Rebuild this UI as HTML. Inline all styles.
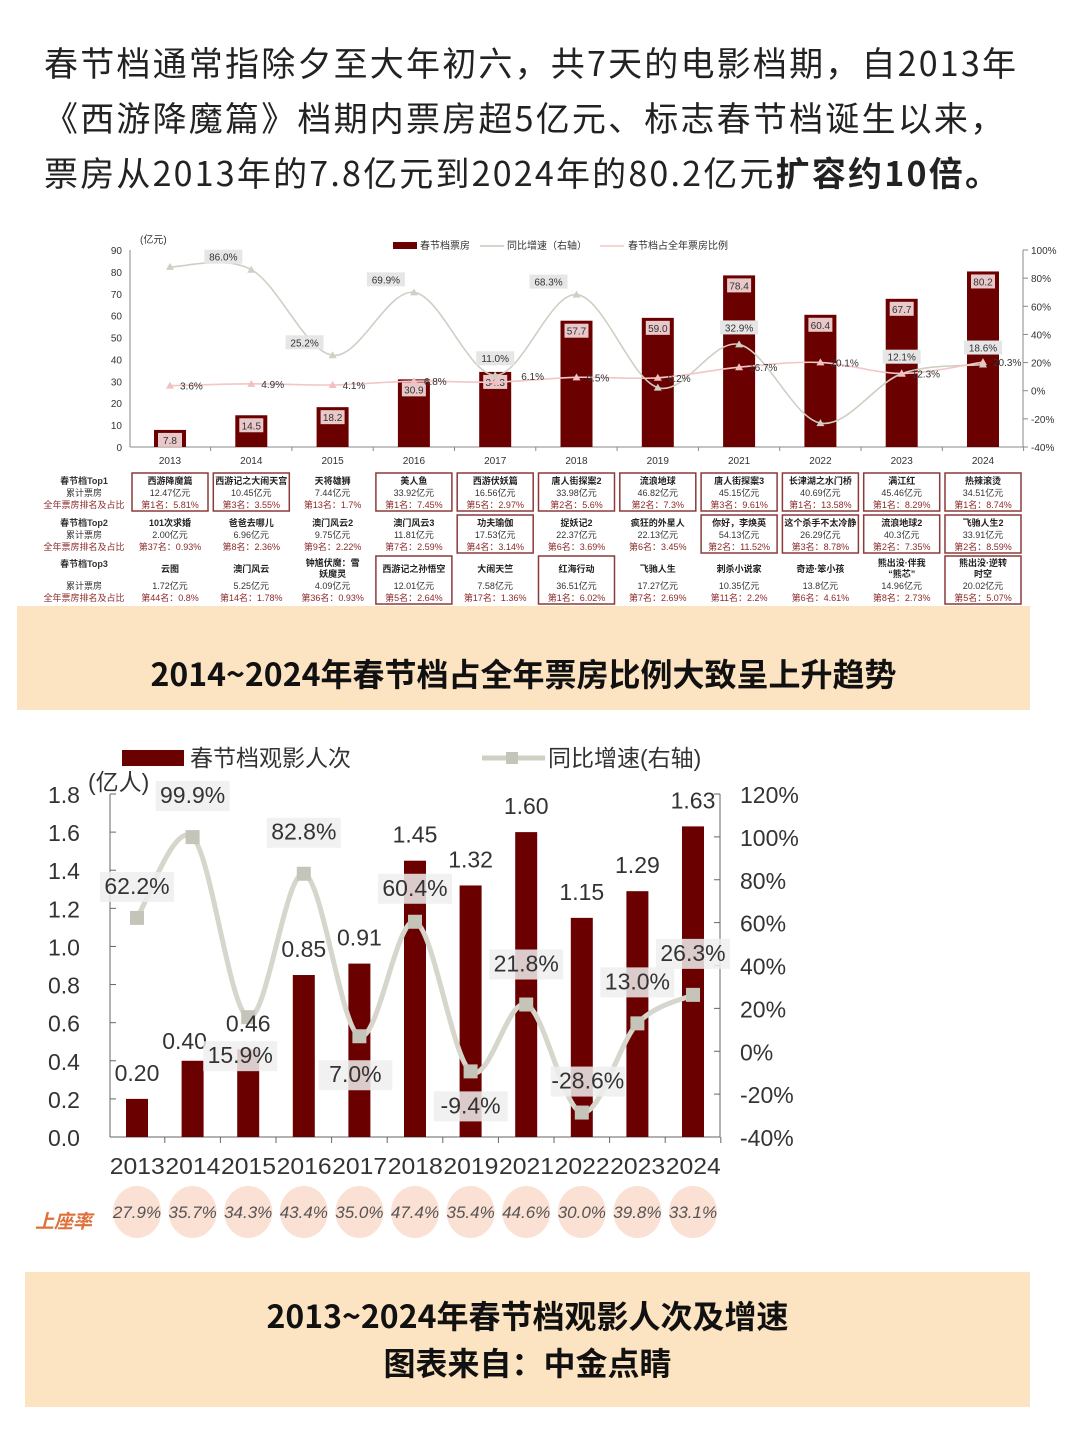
<!DOCTYPE html>
<html><head><meta charset="utf-8">
<style>
body{margin:0;width:1080px;height:1440px;background:#fff;font-family:"Liberation Sans","Noto Sans CJK SC",sans-serif;position:relative;overflow:hidden}
.intro{position:absolute;left:44px;top:34px;width:1030px;font-size:34px;line-height:55px;color:#222;font-family:"Noto Sans CJK SC",sans-serif;white-space:nowrap;letter-spacing:2.2px}
.banner{position:absolute;background:#fce3c1;text-align:center;font-weight:bold;color:#111;font-family:"Noto Sans CJK SC",sans-serif}
svg text{font-family:"Liberation Sans","Noto Sans CJK SC",sans-serif}
</style></head><body>
<div class="intro">春节档通常指除夕至大年初六，共7天的电影档期，自2013年<br>《西游降魔篇》档期内票房超5亿元、标志春节档诞生以来，<br>票房从2013年的7.8亿元到2024年的80.2亿元<b>扩容约10倍。</b></div>
<svg id="top" style="position:absolute;left:0;top:225px" width="1080" height="390"></svg>
<div class="banner" style="left:17px;top:606px;width:1013px;height:104px;line-height:134px;font-size:32px">2014~2024年春节档占全年票房比例大致呈上升趋势</div>
<svg id="bot" style="position:absolute;left:0;top:730px" width="1080" height="520"></svg>
<div class="banner" style="left:25px;top:1272px;width:1005px;height:135px;font-size:32px;line-height:47px;padding-top:20px;box-sizing:border-box">2013~2024年春节档观影人次及增速<br>图表来自：中金点睛</div>
<script>
const years=["2013","2014","2015","2016","2017","2018","2019","2021","2022","2023","2024"];
const boxOffice=[7.8,14.5,18.2,30.9,34.3,57.7,59.0,78.4,60.4,67.7,80.2];
const boGrowth=[88,86.0,25.2,69.9,11.0,68.3,2.2,32.9,-23,12.1,18.6];
const boGrowthLabels=["","86.0%","25.2%","69.9%","11.0%","68.3%","","32.9%","","12.1%","18.6%"];
const share=[3.6,4.9,4.1,6.8,6.1,9.5,9.2,16.7,20.1,12.3,20.3];
const shareLabels=["3.6%","4.9%","4.1%","6.8%","6.1%","9.5%","9.2%","16.7%","20.1%","12.3%","20.3%"];
const leftTicks=[0,10,20,30,40,50,60,70,80,90];
const rightTicks=[-40,-20,0,20,40,60,80,100];
const films1=[["西游降魔篇","12.47亿元","第1名：5.81%"],["西游记之大闹天宫","10.45亿元","第3名：3.55%"],["天将雄狮","7.44亿元","第13名：1.7%"],["美人鱼","33.92亿元","第1名：7.45%"],["西游伏妖篇","16.56亿元","第5名：2.97%"],["唐人街探案2","33.98亿元","第2名：5.6%"],["流浪地球","46.82亿元","第2名：7.3%"],["唐人街探案3","45.15亿元","第3名：9.61%"],["长津湖之水门桥","40.69亿元","第1名：13.58%"],["满江红","45.46亿元","第1名：8.29%"],["热辣滚烫","34.51亿元","第1名：8.74%"]];
const films2=[["101次求婚","2.00亿元","第37名：0.93%"],["爸爸去哪儿","6.96亿元","第8名：2.36%"],["澳门风云2","9.75亿元","第9名：2.22%"],["澳门风云3","11.81亿元","第7名：2.59%"],["功夫瑜伽","17.53亿元","第4名：3.14%"],["捉妖记2","22.37亿元","第6名：3.69%"],["疯狂的外星人","22.13亿元","第6名：3.45%"],["你好，李焕英","54.13亿元","第2名：11.52%"],["这个杀手不太冷静","26.29亿元","第3名：8.78%"],["流浪地球2","40.3亿元","第2名：7.35%"],["飞驰人生2","33.91亿元","第2名：8.59%"]];
const films3=[["云图","1.72亿元","第44名：0.8%"],["澳门风云","5.25亿元","第14名：1.78%"],["钟馗伏魔：雪妖魔灵","4.09亿元","第36名：0.93%"],["西游记之孙悟空","12.01亿元","第5名：2.64%"],["大闹天竺","7.58亿元","第17名：1.36%"],["红海行动","36.51亿元","第1名：6.02%"],["飞驰人生","17.27亿元","第7名：2.69%"],["刺杀小说家","10.35亿元","第11名：2.2%"],["奇迹·笨小孩","13.8亿元","第6名：4.61%"],["熊出没·伴我“熊芯”","14.96亿元","第8名：2.73%"],["熊出没·逆转时空","20.02亿元","第5名：5.07%"]];
const boxed1=[1,1,0,1,1,1,1,1,1,1,1],boxed2=[0,0,0,0,1,0,0,1,1,1,1],boxed3=[0,0,0,1,0,1,0,0,0,0,1];

const people=[0.20,0.40,0.46,0.85,0.91,1.45,1.32,1.60,1.15,1.29,1.63];
const pGrowth=[62.2,99.9,15.9,82.8,7.0,60.4,-9.4,21.8,-28.6,13.0,26.3];
const occupancy=["27.9%","35.7%","34.3%","43.4%","35.0%","47.4%","35.4%","44.6%","30.0%","39.8%","33.1%"];
const pLeftTicks=[0,0.2,0.4,0.6,0.8,1.0,1.2,1.4,1.6,1.8];
const pRightTicks=[-40,-20,0,20,40,60,80,100,120];

const NS="http://www.w3.org/2000/svg";
function mk(p,t,a,txt){const e=document.createElementNS(NS,t);for(const k in a)e.setAttribute(k,a[k]);if(txt!==undefined)e.textContent=txt;p.appendChild(e);return e;}
function smooth(pts){let d="M"+pts[0][0]+","+pts[0][1];for(let i=0;i<pts.length-1;i++){const p0=pts[i-1]||pts[i],p1=pts[i],p2=pts[i+1],p3=pts[i+2]||p2;const c1=[p1[0]+(p2[0]-p0[0])/6,p1[1]+(p2[1]-p0[1])/6],c2=[p2[0]-(p3[0]-p1[0])/6,p2[1]-(p3[1]-p1[1])/6];d+=" C"+c1+" "+c2+" "+p2;}return d;}

// ---- top chart
(function(){
const s=document.getElementById('top');const O=225;
const x=i=>170+i*81.3;
const yL=v=>447-O-v*(197/90);
const yR=v=>447-O-(v+40)*(197/140);
mk(s,'line',{x1:130,y1:yL(0),x2:1023,y2:yL(0),stroke:'#888'});
mk(s,'line',{x1:130,y1:yL(0),x2:130,y2:yL(90),stroke:'#888'});
mk(s,'line',{x1:1023,y1:yL(0),x2:1023,y2:yR(100),stroke:'#888'});
leftTicks.forEach(v=>{const t=mk(s,'text',{x:122,y:yL(v)+4,'font-size':10,'text-anchor':'end',fill:'#333'},v);});
rightTicks.forEach(v=>{const t=mk(s,'text',{x:1031,y:yR(v)+4,'font-size':10,fill:'#333'},v+'%');mk(s,'line',{x1:1023,x2:1028,y1:yR(v),y2:yR(v),stroke:'#888'});});
mk(s,'text',{x:140,y:18,'font-size':10,fill:'#333'},'(亿元)');
mk(s,'rect',{x:393,y:17,width:24,height:7,fill:'#6b0000'});mk(s,'text',{x:420,y:24,'font-size':10,fill:'#333'},'春节档票房');
mk(s,'line',{x1:480,x2:504,y1:21,y2:21,stroke:'#c8c8bc',"stroke-width":1.5});mk(s,'text',{x:507,y:24,'font-size':10,fill:'#333'},'同比增速（右轴）');
mk(s,'line',{x1:600,x2:624,y1:21,y2:21,stroke:'#f2c6c6',"stroke-width":1.5});mk(s,'text',{x:628,y:24,'font-size':10,fill:'#333'},'春节档占全年票房比例');
years.forEach((yr,i)=>{
 const b=mk(s,'rect',{x:x(i)-16,y:yL(boxOffice[i]),width:32,height:yL(0)-yL(boxOffice[i]),fill:'#6b0000'});
 
 mk(s,'rect',{x:x(i)-12,y:yL(boxOffice[i])+3,width:24,height:14,fill:'#e8c8c8'});
 mk(s,'text',{x:x(i),y:yL(boxOffice[i])+14,'font-size':10,'text-anchor':'middle',fill:'#333'},boxOffice[i].toFixed(1));
 const t=mk(s,'text',{x:x(i),y:yL(0)+17,'font-size':10,'text-anchor':'middle',fill:'#333'},yr);
 mk(s,'line',{x1:x(i)+40.6,x2:x(i)+40.6,y1:yL(0),y2:yL(0)+4,stroke:'#888'});
});
const gp=years.map((_,i)=>[x(i),yR(boGrowth[i])]);
const gl=mk(s,'path',{d:smooth(gp),fill:'none',stroke:'#cfcfc4','stroke-width':1.6});
const sp=years.map((_,i)=>[x(i),yR(share[i])]);
const sl=mk(s,'path',{d:smooth(sp),fill:'none',stroke:'#f2c6c6','stroke-width':1.6});
const tri=(p,c)=>mk(s,'path',{d:`M${p[0]},${p[1]-4}L${p[0]+4},${p[1]+3}L${p[0]-4},${p[1]+3}Z`,fill:c});
gp.forEach(p=>tri(p,'#cfcfc4'));sp.forEach(p=>tri(p,'#f2c0c0'));
years.forEach((yr,i)=>{
 if(boGrowthLabels[i]){const c=(i==4||i==7||i>=9);const lx=x(i)-(c?0:28),ly=gp[i][1]-(c?14:10);
 mk(s,'rect',{x:lx-19,y:ly-10,width:38,height:14,fill:'#e6e6e6'});
 mk(s,'text',{x:lx,y:ly+1,'font-size':10,'text-anchor':'middle',fill:'#333'},boGrowthLabels[i]);}
 const dx=i==4?26:10;
 mk(s,'text',{x:sp[i][0]+dx,y:sp[i][1]+4-(i==4?6:0),'font-size':10,fill:'#333'},shareLabels[i]);
});
const rows=[films1,films2,films3],boxes=[boxed1,boxed2,boxed3],rowY=[250,292,333],rowH=[38,38,48];
const heads=["春节档Top1","春节档Top2","春节档Top3"];
rows.forEach((r,ri)=>{
 const y0=rowY[ri];
 mk(s,'text',{x:84,y:y0+9,'font-size':9,'font-weight':'bold','text-anchor':'middle',fill:'#333'},heads[ri]);
 mk(s,'text',{x:84,y:y0+ (ri==2?rowH[ri]-17:21),'font-size':9,'text-anchor':'middle',fill:'#333'},'累计票房');
 mk(s,'text',{x:84,y:y0+rowH[ri]-5,'font-size':9,'text-anchor':'middle',fill:'#8b2a2a'},'全年票房排名及占比');
 r.forEach((f,i)=>{
  const cx=x(i);
  if(boxes[ri][i]){const bx=mk(s,'rect',{x:cx-38,y:y0-2,width:76,height:rowH[ri],fill:'none',stroke:'#8b3a3a','stroke-width':1.5});}
  const long=f[0].length>7&&ri==2;
  if(long){mk(s,'text',{x:cx,y:y0+8,'font-size':9,'font-weight':'bold','text-anchor':'middle',fill:'#222'},f[0].slice(0,6));mk(s,'text',{x:cx,y:y0+19,'font-size':9,'font-weight':'bold','text-anchor':'middle',fill:'#222'},f[0].slice(6));}
  else mk(s,'text',{x:cx,y:y0+(ri==2?14:9),'font-size':9,'font-weight':'bold','text-anchor':'middle',fill:'#222'},f[0]);
  mk(s,'text',{x:cx,y:y0+(ri==2?rowH[ri]-17:21),'font-size':9,'text-anchor':'middle',fill:'#333'},f[1]);
  mk(s,'text',{x:cx,y:y0+rowH[ri]-5,'font-size':9,'text-anchor':'middle',fill:'#8b2a2a'},f[2]);
 });
});
})();

// ---- bottom chart
(function(){
const s=document.getElementById('bot');const O=730;
const x=i=>137+i*55.6;
const yL=v=>1137-O-v*(343/1.8);
const yR=v=>1137-O-(v+40)*(343/160);
mk(s,'line',{x1:110,y1:yL(0),x2:720,y2:yL(0),stroke:'#666'});
mk(s,'line',{x1:110,y1:yL(0),x2:110,y2:yL(1.8),stroke:'#666'});
mk(s,'line',{x1:720,y1:yL(0),x2:720,y2:yR(120),stroke:'#666'});
pLeftTicks.forEach(v=>{const t=mk(s,'text',{x:48,y:yL(v)+9,'font-size':23,fill:'#333'},v.toFixed(1));mk(s,'line',{x1:110,x2:116,y1:yL(v),y2:yL(v),stroke:'#666'});});
pRightTicks.forEach(v=>{const t=mk(s,'text',{x:740,y:yR(v)+9,'font-size':23,fill:'#333'},v+'%');mk(s,'line',{x1:714,x2:720,y1:yR(v),y2:yR(v),stroke:'#666'});});
mk(s,'text',{x:88,y:60,'font-size':23,fill:'#333'},'(亿人)');
mk(s,'rect',{x:122,y:20,width:62,height:16,fill:'#6b0000'});
mk(s,'text',{x:190,y:36,'font-size':23,fill:'#333'},'春节档观影人次');
mk(s,'line',{x1:482,x2:545,y1:28,y2:28,stroke:'#cfcfc4','stroke-width':5});
mk(s,'rect',{x:506,y:22,width:12,height:12,fill:'#c4c4b8'});
mk(s,'text',{x:548,y:36,'font-size':23,fill:'#333'},'同比增速(右轴)');
years.forEach((yr,i)=>{
 const b=mk(s,'rect',{x:x(i)-11,y:yL(people[i]),width:22,height:yL(0)-yL(people[i]),fill:'#6b0000'});
 
 const t=mk(s,'text',{x:x(i)+27.8,y:yL(0)+37,'font-size':23,'text-anchor':'end',fill:'#333','textLength':55,'lengthAdjust':'spacingAndGlyphs'},yr);
 mk(s,'line',{x1:x(i)+27.8,x2:x(i)+27.8,y1:yL(0),y2:yL(0)+6,stroke:'#666'});
 const c=mk(s,'ellipse',{cx:x(i),cy:482,rx:24,ry:26,fill:'#fbe0d4'});
 mk(s,'text',{x:x(i),y:488,'font-size':17,'font-style':'italic','text-anchor':'middle',fill:'#555'},occupancy[i]);
});
mk(s,'text',{x:35,y:498,'font-size':19,'font-style':'italic','font-weight':'bold',fill:'#e0703a'},'上座率');
const gp=years.map((_,i)=>[x(i),yR(pGrowth[i])]);
const gl=mk(s,'path',{d:smooth(gp),fill:'none',stroke:'#d6d6cc','stroke-width':5});
gp.forEach(p=>mk(s,'rect',{x:p[0]-7,y:p[1]-7,width:14,height:14,fill:'#c4c4b8'}));
const off=[[0,-24],[0,-34],[-8,46],[0,-34],[-4,46],[0,-26],[0,42],[0,-33],[6,-24],[0,-34],[0,-34]];
years.forEach((yr,i)=>{
 const lx=gp[i][0]+off[i][0],ly=gp[i][1]+off[i][1];
 mk(s,'rect',{x:lx-37,y:ly-22,width:74,height:30,fill:'#eeeeee','fill-opacity':0.85});
 mk(s,'text',{x:lx,y:ly,'font-size':23,'text-anchor':'middle',fill:'#333'},pGrowth[i].toFixed(1)+'%');
 mk(s,'text',{x:x(i)+(i==1?-8:0),y:yL(people[i])-(i==1?12:18),'font-size':23,'text-anchor':'middle',fill:'#333'},people[i].toFixed(2));
});
})();
</script>
</body></html>
